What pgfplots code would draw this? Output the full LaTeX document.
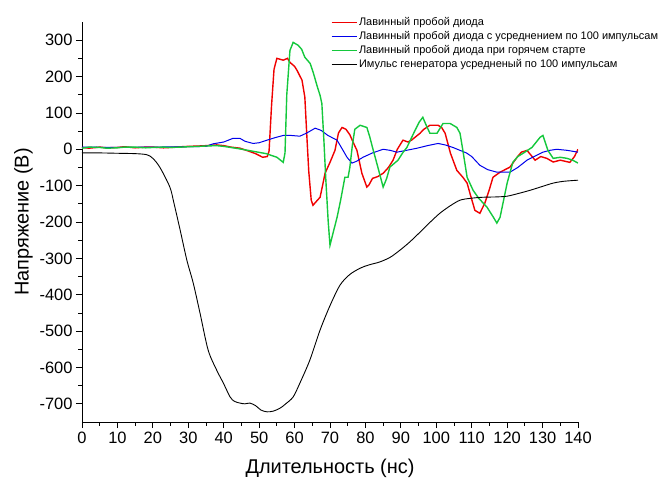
\documentclass[border=0pt]{standalone}
\usepackage{fontspec}
\setmainfont{Liberation Sans}
\usepackage{pgfplots}
\pgfplotsset{compat=1.18}
\definecolor{ored}{RGB}{240,0,0}
\definecolor{oblue}{RGB}{0,0,235}
\definecolor{ogreen}{RGB}{20,200,60}

\begin{document}
\begin{tikzpicture}
\begin{axis}[
    scale only axis,
    width=496bp, height=400bp,
    xmin=0, xmax=140, ymin=-750, ymax=350,
    axis x line=bottom, axis y line=left,
    axis line style={-, line width=0.8bp},
    xtick={0,10,...,140}, ytick={-700,-600,...,300},
    minor x tick num=1, minor y tick num=1,
    tick align=outside,
    major tick length=6bp, minor tick length=3.5bp,
    tick style={line width=0.8bp, black},
    /pgf/number format/assume math mode=true,
    tick label style={font=\fontsize{16.5}{19}\selectfont},
    xlabel={Длительность (нс)}, ylabel={Напряжение (В)},
    label style={font=\fontsize{20}{24}\selectfont},
    xlabel style={yshift=-9bp},
    legend style={at={(0.496,1.022)}, anchor=north west, draw=none, fill=none,
                  font=\fontsize{11}{13}\selectfont, row sep=0.5bp},
    legend cell align=left,
    legend image code/.code={\draw[#1, line width=0.8bp] (0bp,0bp) -- (25bp,0bp);},
]
\coordinate (bl) at (rel axis cs:0,0);
\coordinate (tr) at (rel axis cs:1,1);

% Лавинный пробой диода
\addplot[ored, line width=1.4bp] coordinates {
(0,5)(2,3)(5,6)(7,4)(10,5)(12,7)(15,4)(18,6)(20,6)(23,4)(25,5)(28,7)(30,8)(33,9)(35,10)(38,12)(40,10)(42,6)(44.6,3)(47,-5)(49,-12)(51,-22)(52.3,-20)(52.8,-5)(53.5,120)(54.2,220)(55,250)(56.8,245)(58,250)(58.7,239)(60,228)(60.7,217)(62.1,190)(62.9,143)(63.5,30)(64,-60)(64.7,-140)(65.2,-154)(66,-145)(67.2,-132)(68,-95)(68.6,-66)(70,-36)(71.4,-3)(72.4,45)(73.4,60)(74.5,55)(75.6,40)(76.5,20)(77.6,-3)(79,-66)(80.4,-104)(81,-98)(82,-80)(83.5,-75)(85,-66)(86.5,-50)(87.8,-30)(89,0)(90.6,25)(92,20)(93,25)(95.4,44)(96.5,55)(98.2,66)(100.5,66)(101.5,60)(102.5,44)(104,-11)(105.8,-58)(107.5,-77)(108.7,-93)(109.5,-121)(110.9,-168)(112.3,-176)(113.7,-148)(115,-110)(116,-77)(118,-63)(120.8,-49)(122.8,-22)(124,-8)(125.6,-3)(127.9,-30)(129.5,-20)(131.2,-25)(133,-35)(135,-30)(137.7,-36)(139,-20)(140,0)
};
\addlegendentry{Лавинный пробой диода}

% усреднение по 100 импульсам
\addplot[oblue, line width=1bp] coordinates {
(0,6)(10,5)(20,6)(30,7)(35,8)(37,15)(40,20)(42.6,30)(44.6,30)(46,22)(48.3,16)(50,18)(52.2,25)(54.5,32)(56.8,38)(59,38)(61.5,36)(63.5,45)(65.8,58)(67.5,52)(69.4,38)(72,25)(73.5,0)(74.8,-22)(76.2,-38)(77.5,-33)(79.3,-22)(82,-10)(85,0)(87,-3)(88.9,-8)(91,-4)(94.6,3)(97.5,10)(100.5,16)(102.5,12)(104.7,5)(106.7,-3)(108.5,-10)(110,-20)(112.3,-44)(114.5,-56)(117.1,-63)(120.8,-63)(123,-50)(125.6,-30)(128,-18)(130.1,-8)(132,-3)(134,0)(137,-3)(140,-8)
};
\addlegendentry{Лавинный пробой диода с усреднением по 100 импульсам}

% горячий старт
\addplot[ogreen, line width=1.4bp] coordinates {
(0,3)(2,6)(5,5)(7,3)(10,4)(12,6)(15,6)(18,4)(20,5)(23,6)(25,5)(28,6)(30,7)(33,8)(35,9)(38,10)(40,8)(44,2)(48,-5)(52,-12)(55,-22)(56.8,-36)(57.3,-10)(57.8,150)(58.7,272)(59.6,294)(61,286)(62,275)(62.9,253)(64.4,236)(65.3,210)(66.3,176)(67.2,148)(67.7,126)(68.3,20)(68.8,-80)(69.5,-200)(70,-264)(71,-225)(72,-187)(73,-140)(74.2,-77)(75.1,-77)(75.6,-50)(76.3,10)(77,55)(78.5,66)(80.4,60)(81.2,35)(82,5)(83.5,-49)(85,-104)(86,-80)(86.9,-49)(89.2,-30)(90.5,-10)(91.7,5)(94,52)(95.2,75)(96.2,88)(97.2,65)(98.2,44)(100.2,44)(101.9,71)(103.9,71)(105.8,60)(106.7,44)(107.5,-3)(108.7,-77)(110.4,-113)(112,-135)(114.3,-159)(116,-185)(117.1,-203)(118,-187)(119,-140)(120,-93)(121.6,-36)(123,-20)(124.5,-11)(127,5)(129.3,33)(130.1,38)(131.5,-3)(133,-25)(135,-22)(136.9,-25)(138.5,-30)(140,-38)
};
\addlegendentry{Лавинный пробой диода при горячем старте}

% импульс генератора
\addplot[black, line width=0.9bp, smooth] coordinates {
(0,-10)(5,-10)(10,-11)(15,-12)(18.3,-15)(20,-25)(22,-50)(24.8,-104)(26,-150)(27.7,-222)(29.6,-305)(31.4,-368)(33.3,-450)(35.6,-552)(38,-607)(39.9,-643)(41.8,-681)(43,-693)(44.6,-698)(46,-700)(47.4,-698)(49,-705)(50.5,-717)(52.2,-722)(54,-720)(55.9,-712)(57.5,-700)(59.6,-681)(61.5,-643)(64.3,-580)(67.2,-497)(70,-430)(72.8,-374)(75.5,-345)(78.5,-327)(81,-318)(84,-310)(87,-297)(89.8,-277)(92.5,-255)(95.4,-228)(98,-203)(101,-176)(104,-155)(106.7,-140)(109.5,-135)(113,-132)(117,-131)(120,-129)(123,-122)(126.4,-113)(130,-102)(133,-93)(136,-88)(140,-85)
};
\addlegendentry{Имульс генератора усредненый по 100 импульсам}
\end{axis}
\pgfresetboundingbox
\path (bl) ++(-82bp,-62bp) coordinate (BB1);
\path (tr) ++(94bp,22bp) coordinate (BB2);
\useasboundingbox (BB1) rectangle (BB2);
\end{tikzpicture}
\end{document}
